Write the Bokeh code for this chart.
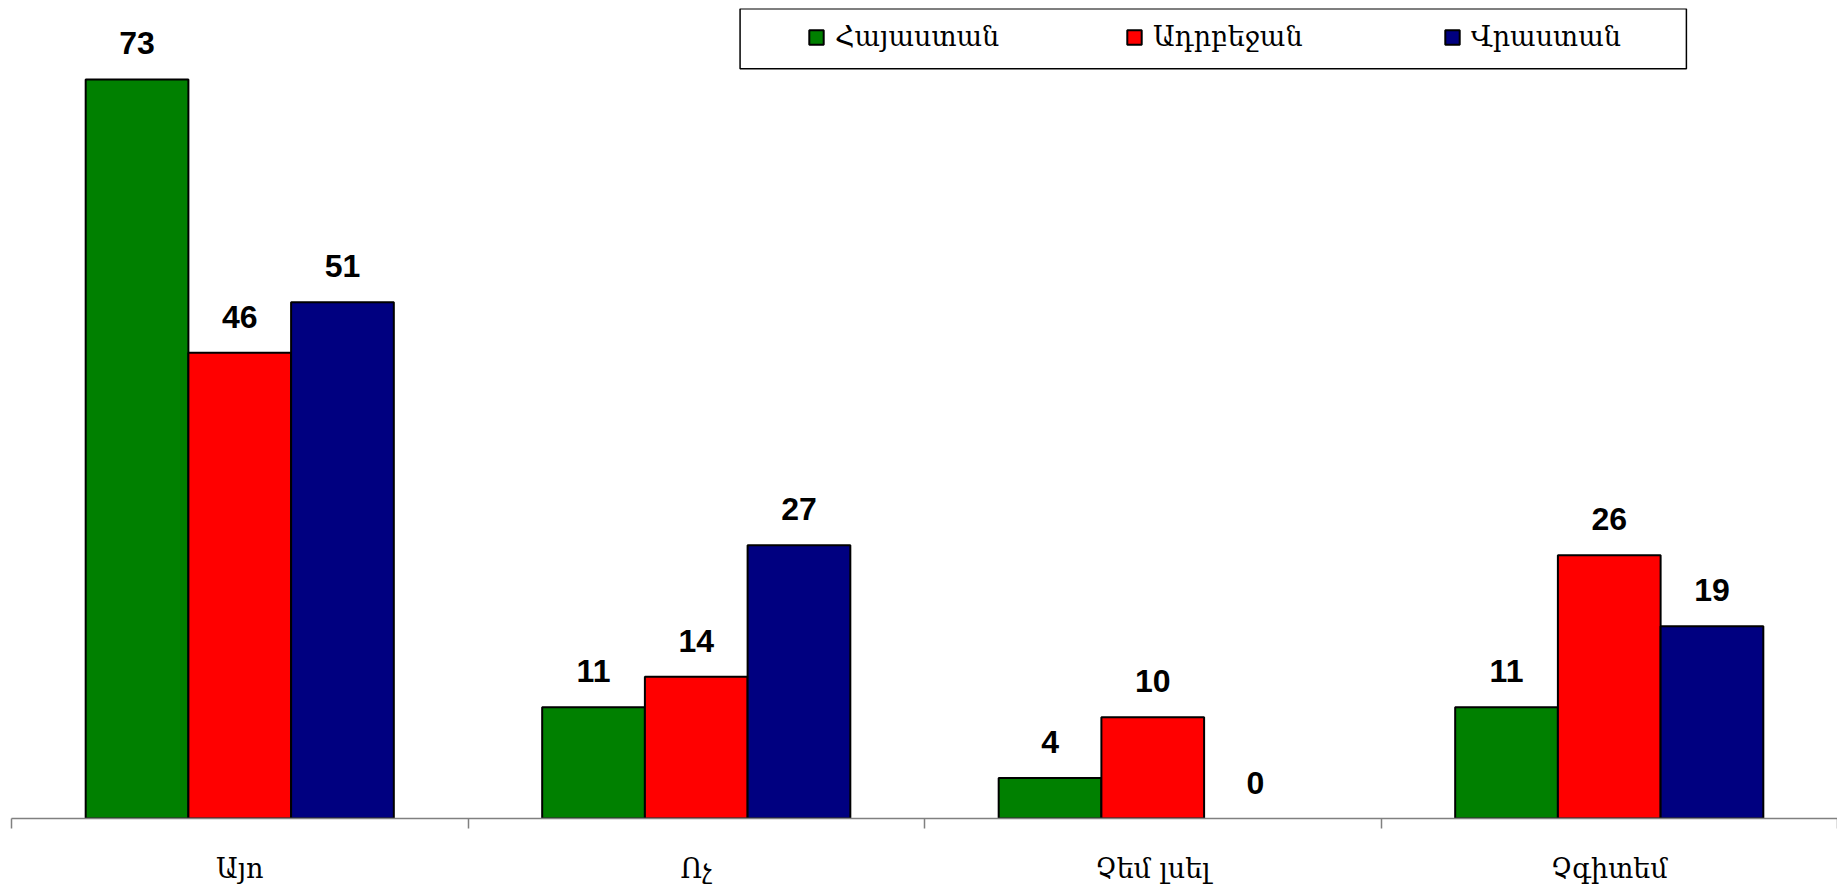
from bokeh.plotting import figure
from bokeh.models import (ColumnDataSource, FactorRange, Range1d, LinearAxis,
                          FixedTicker, Legend, LegendItem, BoxAnnotation,
                          CDSView, BooleanFilter)
from bokeh.transform import dodge
from bokeh.core.properties import value
from bokeh.embed import file_html
from bokeh.resources import INLINE

categories = ["Այո", "Ոչ", "Չեմ լսել", "Չգիտեմ"]
series_names = ["Հայաստան", "Ադրբեջան", "Վրաստան"]
armenia = [73, 11, 4, 11]
azerbaijan = [46, 14, 10, 26]
georgia = [51, 27, 0, 19]
colors = ["#008000", "#FF0000", "#000080"]

series = [armenia, azerbaijan, georgia]
keys = ["arm", "aze", "geo"]
data = dict(cat=categories)
for k, s in zip(keys, series):
    data[k] = s
    data[k + "_lbl"] = [str(v) for v in s]
src = ColumnDataSource(data)

p = figure(x_range=FactorRange(*categories), y_range=Range1d(0, 80),
           width=1837, height=890, output_backend="svg", toolbar_location=None,
           x_axis_location=None, y_axis_location=None,
           min_border_left=11, min_border_right=0, min_border_top=8,
           min_border_bottom=72)
p.outline_line_color = None
p.xgrid.visible = False
p.ygrid.visible = False
p.background_fill_color = "white"
p.border_fill_color = "white"

# synthetic categorical coordinates: category i is centred at i + 0.5
centers = [i + 0.5 for i in range(len(categories))]
ax = LinearAxis(ticker=FixedTicker(ticks=centers,
                                   minor_ticks=list(range(len(categories) + 1))),
                major_label_overrides={c: lab for c, lab in zip(centers, categories)},
                major_tick_out=0, major_tick_in=0,
                minor_tick_out=10, minor_tick_in=0,
                axis_line_color="#808080", axis_line_width=1.5,
                minor_tick_line_color="#808080", minor_tick_line_width=1.5,
                major_label_standoff=24,
                major_label_text_font="DejaVu Serif",
                major_label_text_font_size="27px",
                major_label_text_line_height=0.8,
                major_label_text_color="black")
p.add_layout(ax, "below")

bw = 0.225
offsets = [-bw, 0, bw]
renderers = []
for k, s, off, col in zip(keys, series, offsets, colors):
    view = CDSView(filter=BooleanFilter(booleans=[v > 0 for v in s]))
    r = p.vbar(x=dodge("cat", off, range=p.x_range), top=k, width=bw,
               source=src, view=view, fill_color=col, line_color="black",
               line_width=2)
    renderers.append(r)
    p.text(x=dodge("cat", off, range=p.x_range), y=k, text=k + "_lbl",
           source=src, text_align="center", text_baseline="alphabetic",
           y_offset=-36, text_font=value("Liberation Sans"),
           text_font_style="bold", text_font_size="32px", text_color="black")

box = BoxAnnotation(left=1.596, right=3.669,
                    bottom=74.04, top=79.97, fill_color="white", fill_alpha=1,
                    line_color="black", line_width=1.5, line_alpha=1)
p.add_layout(box)

legend = Legend(items=[LegendItem(label=n, renderers=[r])
                       for n, r in zip(series_names, renderers)],
                orientation="horizontal", location=(786, 756),
                glyph_width=18, glyph_height=18, label_standoff=10,
                label_width=260, spacing=30, padding=10,
                border_line_alpha=0, background_fill_alpha=0,
                label_text_font="DejaVu Serif", label_text_font_size="27px",
                label_text_color="black")
p.add_layout(legend)

open("out.html", "w").write(file_html(p, INLINE))
